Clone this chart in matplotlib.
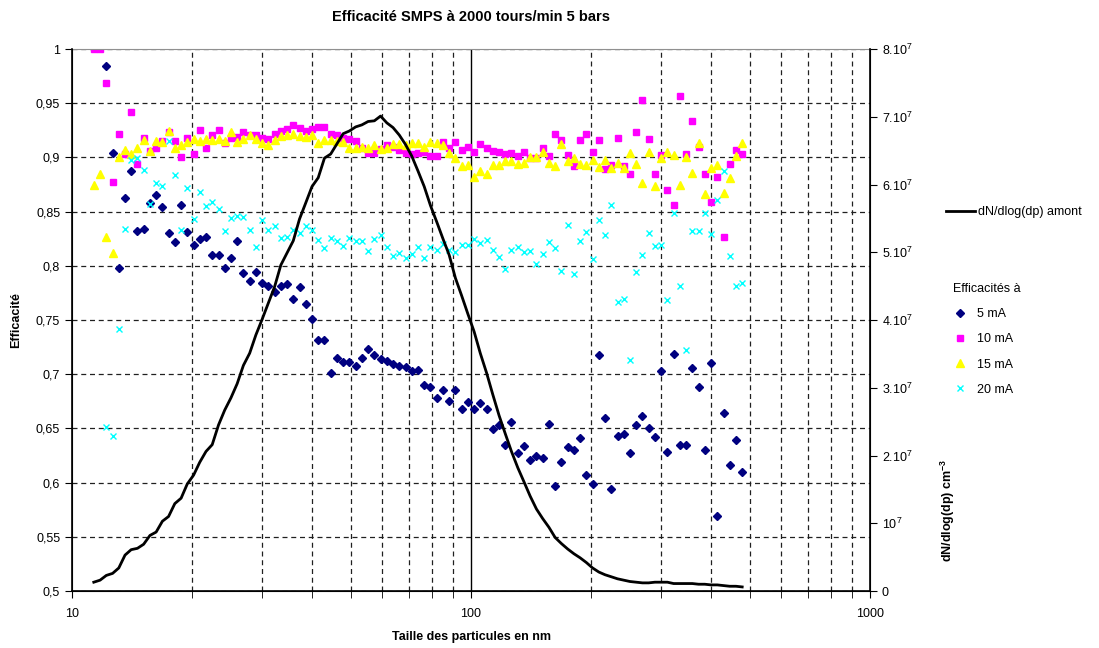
import matplotlib
matplotlib.use("Agg")
import matplotlib.pyplot as plt
import numpy as np
from matplotlib.ticker import NullFormatter
from matplotlib.lines import Line2D

plt.rcParams['font.family'] = ['Liberation Sans', 'DejaVu Sans']
plt.rcParams['mathtext.default'] = 'regular'

# SMPS channel midpoints (nm)
dp = [11.34, 11.76, 12.19, 12.64, 13.10, 13.58, 14.07, 14.59, 15.12, 15.68,
      16.25, 16.85, 17.46, 18.10, 18.77, 19.45, 20.17, 20.90, 21.67, 22.46,
      23.29, 24.14, 25.02, 25.94, 26.89, 27.88, 28.90, 29.96, 31.05, 32.19,
      33.37, 34.59, 35.86, 37.17, 38.54, 39.95, 41.41, 42.93, 44.50, 46.13,
      47.82, 49.57, 51.39, 53.27, 55.22, 57.25, 59.34, 61.52, 63.77, 66.11,
      68.53, 71.04, 73.64, 76.34, 79.14, 82.04, 85.05, 88.16, 91.39, 94.74,
      98.21, 101.8, 105.5, 109.4, 113.4, 117.6, 121.9, 126.3, 131.0, 135.8,
      140.7, 145.9, 151.2, 156.8, 162.5, 168.5, 174.7, 181.1, 187.7, 194.6,
      201.7, 209.1, 216.7, 224.7, 232.9, 241.4, 250.3, 259.5, 269.0, 278.8,
      289.0, 299.6, 310.6, 322.0, 333.8, 346.0, 358.7, 371.8, 385.4, 399.5,
      414.2, 429.4, 445.1, 461.4, 478.3]

nan = np.nan
eff_5mA = [nan, nan, 0.984, 0.904, 0.798, 0.863, 0.887, 0.832, 0.834, 0.858,
           0.865, 0.854, 0.830, 0.822, 0.856, 0.831, 0.819, 0.825, 0.827, 0.810,
           0.810, 0.798, 0.807, 0.823, 0.793, 0.786, 0.794, 0.784, 0.781, 0.776,
           0.781, 0.783, 0.769, 0.780, 0.765, 0.751, 0.732, 0.732, 0.701, 0.715,
           0.711, 0.711, 0.708, 0.715, 0.723, 0.718, 0.714, 0.712, 0.709, 0.708,
           0.707, 0.703, 0.704, 0.690, 0.688, 0.678, 0.685, 0.675, 0.685, 0.668,
           0.674, 0.668, 0.673, 0.668, 0.649, 0.653, 0.635, 0.656, 0.627, 0.634,
           0.621, 0.625, 0.623, 0.654, 0.597, 0.619, 0.633, 0.630, 0.641, 0.607,
           0.599, 0.718, 0.660, 0.594, 0.643, 0.645, 0.627, 0.653, 0.661, 0.650,
           0.642, 0.703, 0.628, 0.719, 0.635, 0.635, 0.706, 0.688, 0.630, 0.710,
           0.569, 0.664, 0.616, 0.639, 0.610]

eff_10mA = [1.0, 1.0, 0.969, 0.877, 0.922, 0.903, 0.942, 0.894, 0.918, 0.906,
            0.909, 0.915, 0.923, 0.915, 0.900, 0.918, 0.903, 0.925, 0.909, 0.921,
            0.925, 0.913, 0.918, 0.919, 0.923, 0.921, 0.921, 0.918, 0.917, 0.922,
            0.924, 0.926, 0.930, 0.927, 0.924, 0.926, 0.928, 0.928, 0.922, 0.921,
            0.918, 0.917, 0.915, 0.909, 0.904, 0.904, 0.908, 0.911, 0.910, 0.907,
            0.904, 0.903, 0.904, 0.905, 0.901, 0.901, 0.914, 0.909, 0.914, 0.907,
            0.910, 0.905, 0.912, 0.909, 0.906, 0.905, 0.903, 0.904, 0.901, 0.905,
            0.899, 0.899, 0.909, 0.901, 0.922, 0.916, 0.902, 0.892, 0.916, 0.922,
            0.905, 0.916, 0.889, 0.893, 0.918, 0.892, 0.885, 0.923, 0.953, 0.917,
            0.885, 0.902, 0.870, 0.856, 0.957, 0.903, 0.934, 0.910, 0.885, 0.859,
            0.882, 0.827, 0.894, 0.907, 0.903]

eff_15mA = [0.875, 0.885, 0.827, 0.812, 0.900, 0.907, 0.903, 0.909, 0.916, 0.906,
            0.915, 0.914, 0.924, 0.909, 0.911, 0.914, 0.917, 0.915, 0.917, 0.916,
            0.917, 0.915, 0.923, 0.914, 0.917, 0.921, 0.917, 0.913, 0.911, 0.916,
            0.920, 0.921, 0.922, 0.920, 0.919, 0.921, 0.913, 0.916, 0.916, 0.915,
            0.914, 0.909, 0.909, 0.910, 0.909, 0.911, 0.908, 0.909, 0.912, 0.912,
            0.911, 0.913, 0.913, 0.910, 0.914, 0.913, 0.911, 0.904, 0.899, 0.892,
            0.893, 0.882, 0.887, 0.885, 0.893, 0.893, 0.897, 0.897, 0.894, 0.895,
            0.900, 0.900, 0.905, 0.895, 0.892, 0.912, 0.897, 0.899, 0.894, 0.893,
            0.898, 0.891, 0.898, 0.890, 0.895, 0.890, 0.904, 0.894, 0.876, 0.905,
            0.874, 0.899, 0.905, 0.902, 0.875, 0.900, 0.886, 0.913, 0.866, 0.890,
            0.893, 0.867, 0.881, 0.901, 0.913]

eff_20mA = [nan, nan, 0.651, 0.643, 0.742, 0.834, 0.898, 0.899, 0.888, 0.857,
            0.876, 0.874, 0.915, 0.884, 0.833, 0.872, 0.843, 0.868, 0.855, 0.859,
            0.852, 0.832, 0.844, 0.846, 0.845, 0.833, 0.817, 0.842, 0.833, 0.837,
            0.826, 0.827, 0.833, 0.830, 0.837, 0.833, 0.824, 0.816, 0.826, 0.823,
            0.818, 0.826, 0.823, 0.823, 0.814, 0.825, 0.828, 0.817, 0.809, 0.812,
            0.807, 0.811, 0.817, 0.807, 0.817, 0.815, 0.820, 0.815, 0.813, 0.819,
            0.819, 0.825, 0.821, 0.824, 0.815, 0.808, 0.797, 0.815, 0.817, 0.813,
            0.814, 0.802, 0.811, 0.822, 0.816, 0.795, 0.838, 0.792, 0.823, 0.831,
            0.806, 0.842, 0.828, 0.856, 0.767, 0.769, 0.713, 0.794, 0.810, 0.830,
            0.818, 0.819, 0.768, 0.849, 0.781, 0.722, 0.832, 0.832, 0.849, 0.829,
            0.861, 0.887, 0.809, 0.781, 0.784]

# upstream size distribution, in units of 1e7 cm-3
dn_amont_e7 = [0.13, 0.16, 0.23, 0.26, 0.34, 0.53, 0.61, 0.63, 0.69, 0.82,
               0.87, 1.03, 1.10, 1.29, 1.37, 1.58, 1.71, 1.90, 2.06, 2.16,
               2.45, 2.67, 2.85, 3.06, 3.33, 3.51, 3.78, 4.01, 4.25, 4.49,
               4.81, 4.99, 5.17, 5.49, 5.73, 5.97, 6.10, 6.39, 6.45, 6.60,
               6.75, 6.79, 6.85, 6.88, 6.93, 6.94, 7.01, 6.91, 6.84, 6.73,
               6.59, 6.42, 6.20, 5.97, 5.69, 5.45, 5.20, 4.96, 4.62, 4.36,
               4.09, 3.83, 3.51, 3.22, 2.90, 2.59, 2.32, 2.06, 1.82, 1.61,
               1.40, 1.21, 1.07, 0.94, 0.79, 0.70, 0.62, 0.55, 0.49, 0.42,
               0.34, 0.28, 0.24, 0.21, 0.18, 0.16, 0.14, 0.13, 0.12, 0.12,
               0.13, 0.13, 0.13, 0.11, 0.11, 0.11, 0.11, 0.10, 0.10, 0.09,
               0.09, 0.08, 0.07, 0.07, 0.06]

eff_ticks = [0.5, 0.55, 0.6, 0.65, 0.7, 0.75, 0.8, 0.85, 0.9, 0.95, 1.0]
eff_labels = ['0,5', '0,55', '0,6', '0,65', '0,7', '0,75', '0,8', '0,85', '0,9', '0,95', '1']
dn_ticks = [0, 1e7, 2e7, 3e7, 4e7, 5e7, 6e7, 7e7, 8e7]
dn_labels = ['0', '$10^7$', '$2.10^7$', '$3.10^7$', '$4.10^7$',
             '$5.10^7$', '$6.10^7$', '$7.10^7$', '$8.10^7$']

fig = plt.figure(figsize=(10.99, 6.48), dpi=100)
ax = fig.add_axes([72/1099, 1 - 591/648, 798/1099, 542/648])
ax.set_xscale('log')
ax.set_xlim(10, 1000)
ax.set_ylim(0.5, 1.0)

ax.set_xticks([10, 100, 1000])
ax.set_xticklabels(['10', '100', '1000'])
minor = [20, 30, 40, 50, 60, 70, 80, 90, 200, 300, 400, 500, 600, 700, 800, 900]
ax.set_xticks(minor, minor=True)
ax.xaxis.set_minor_formatter(NullFormatter())
ax.set_yticks(eff_ticks)
ax.set_yticklabels(eff_labels)

dash = (0, (4, 3))
ax.grid(True, which='minor', axis='x', color='#202020', ls=dash, lw=0.9)
ax.grid(True, which='major', axis='y', color='#202020', ls=dash, lw=0.9)
ax.axvline(100, color='black', lw=1.0)
ax.set_axisbelow(True)

ax.tick_params(which='both', direction='out', length=5, labelsize=9, colors='black')
ax.tick_params(axis='x', pad=7)
for s in ['left', 'bottom']:
    ax.spines[s].set_linewidth(1.2)
ax.spines['top'].set_color('#909090')

p5, = ax.plot(dp, eff_5mA, ls='none', marker='D', ms=4.5, color='#000080')
p10, = ax.plot(dp, eff_10mA, ls='none', marker='s', ms=5, color='#FF00FF')
p15, = ax.plot(dp, eff_15mA, ls='none', marker='^', ms=6, color='#FFFF00')
p20, = ax.plot(dp, eff_20mA, ls='none', marker='x', ms=4, mew=1, color='#00FFFF')

ax2 = ax.twinx()
ax2.set_ylim(0, 8e7)
ax2.set_yticks(dn_ticks)
ax2.set_yticklabels(dn_labels)
ax2.tick_params(direction='out', length=5, labelsize=9)
ax2.spines['right'].set_linewidth(1.2)
ax2.spines['top'].set_visible(False)
ax2.plot(dp, np.array(dn_amont_e7) * 1e7, color='black', lw=2)

ax.set_title('Efficacité SMPS à 2000 tours/min 5 bars', fontsize=10.5, fontweight='bold', pad=20)
ax.set_xlabel('Taille des particules en nm', fontsize=9, fontweight='bold', labelpad=8)
ax.set_ylabel('Efficacité', fontsize=9, fontweight='bold', labelpad=10)
fig.text(948/1099, 1 - 510/648, 'dN/dlog(dp) cm$^{-3}$', rotation=90, fontsize=9,
         fontweight='bold', ha='center', va='center')

fig.legend(handles=[Line2D([0], [0], color='black', lw=2)], labels=['dN/dlog(dp) amont'],
           loc='center left', bbox_to_anchor=(935/1099, 1 - 212/648), frameon=False,
           fontsize=9, handlelength=2.3, handletextpad=0.2)

fig.legend(handles=[p5, p10, p15, p20], labels=['5 mA', '10 mA', '15 mA', '20 mA'],
           title='Efficacités à', title_fontsize=9, alignment='left',
           loc='upper left', bbox_to_anchor=(942/1099, 1 - 272/648), frameon=False,
           fontsize=9, handlelength=1.0, handletextpad=0.9, labelspacing=1.05)

fig.savefig('out.png', dpi=100)
